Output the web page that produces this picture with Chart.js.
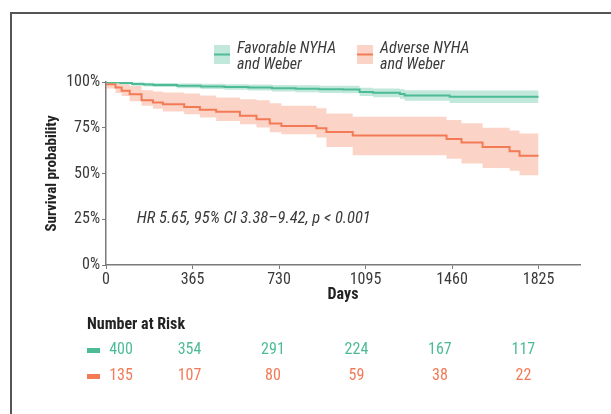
<!DOCTYPE html>
<html>
<head>
<meta charset="utf-8">
<script src="https://cdn.jsdelivr.net/npm/chart.js@4.4.1/dist/chart.umd.min.js"></script>
<style>
  html, body { margin: 0; padding: 0; background: #fff; }
  #wrap { position: relative; width: 611px; height: 414px; overflow: hidden; }
  #frame { position: absolute; left: 10px; top: 12px; width: 620px; height: 420px;
           border-top: 2px solid #555; border-left: 2px solid #555; box-sizing: border-box; }
  canvas { position: absolute; left: 0; top: 0; }
</style>
</head>
<body>
<div id="wrap">
  <div id="frame"></div>
  <canvas id="c" width="611" height="414"></canvas>
</div>
<script>
// ---------------- data ----------------
const groupNames = ["Favorable NYHA\nand Weber", "Adverse NYHA\nand Weber"];

const favTimes = [0, 60, 110, 160, 200, 300, 400, 500, 600, 700, 800, 900, 1000, 1070, 1127, 1240, 1260, 1450, 1542, 1825];
const favSurv  = [100, 99.8, 99.4, 98.9, 98.6, 98.3, 97.9, 97.6, 97.3, 97.0, 96.6, 96.3, 96.0, 95.9, 94.6, 94.1, 93.5, 92.6, 91.9, 91.9];
const favUpper = [100, 100, 100, 99.8, 99.6, 99.4, 99.2, 99.0, 98.8, 98.6, 98.4, 98.2, 98.0, 97.9, 96.9, 96.5, 96.1, 95.5, 95.4, 95.4];
const favLower = [100, 99.5, 98.8, 98.0, 97.6, 97.2, 96.6, 96.2, 95.8, 95.4, 94.8, 94.4, 94.0, 93.9, 92.3, 91.7, 90.9, 89.7, 88.5, 88.5];

const advTimes = [0, 40, 66, 100, 150, 198, 240, 330, 396, 465, 565, 635, 691, 740, 888, 930, 1041, 1437, 1500, 1589, 1703, 1745, 1816, 1825];
const advSurv  = [100, 98.8, 97.0, 95.2, 93.3, 90.0, 88.8, 87.8, 86.4, 84.9, 83.7, 81.5, 79.6, 77.3, 76.0, 74.7, 72.7, 70.7, 68.9, 67.0, 64.5, 62.1, 59.7, 59.7];
const advUpper = [100, 100, 99.6, 98.8, 97.8, 95.5, 94.8, 94.2, 93.7, 92.6, 91.5, 90.6, 90.0, 88.4, 87.0, 85.6, 82.8, 81.0, 79.2, 77.4, 75.0, 73.5, 71.8, 71.8];
const advLower = [100, 96.5, 94.0, 92.4, 89.5, 87.0, 85.4, 83.9, 82.4, 80.6, 78.7, 76.9, 75.1, 72.6, 71.4, 69.7, 64.5, 60.0, 58.0, 55.5, 53.0, 51.5, 49.0, 49.0];

const xTickDays = [0, 365, 730, 1095, 1460, 1825];
const yTickValues = [0, 25, 50, 75, 100];
const riskFav = [400, 354, 291, 224, 167, 117];
const riskAdv = [135, 107, 80, 59, 38, 22];
const hrText = "HR 5.65, 95% CI 3.38\u20139.42, p < 0.001";

// ---------------- styles ----------------
const FONT = "'Liberation Sans Narrow', 'Arial Narrow', 'Roboto Condensed', 'DejaVu Sans Condensed', sans-serif";
const GREEN = '#4dbb97';
const GREEN_BAND = 'rgba(77,189,152,0.35)';
const RED = '#f27b56';
const RED_BAND = 'rgba(244,131,95,0.35)';
const AXIS = '#7a7a7a';
const TXT = '#3a3a3a';

function pts(t, v) { return t.map((x, i) => ({ x: x, y: v[i] })); }

Chart.defaults.font.family = FONT;
Chart.defaults.font.size = 16;
Chart.defaults.color = TXT;

const overlay = {
  id: 'overlay',
  afterDraw(chart) {
    const ctx = chart.ctx;
    const xs = chart.scales.x, ys = chart.scales.y;
    ctx.save();
    // HR annotation
    ctx.fillStyle = TXT;
    ctx.font = 'italic 16.5px ' + FONT;
    ctx.textAlign = 'left';
    ctx.textBaseline = 'middle';
    ctx.fillText(hrText, xs.getPixelForValue(130), ys.getPixelForValue(25));

    // legend
    const legendItems = [
      { sx: 214, tx: 237, band: GREEN_BAND, line: GREEN, text: groupNames[0] },
      { sx: 357, tx: 380, band: RED_BAND, line: RED, text: groupNames[1] }
    ];
    legendItems.forEach(it => {
      ctx.fillStyle = it.band;
      ctx.fillRect(it.sx, 45, 16, 19);
      ctx.strokeStyle = it.line;
      ctx.lineWidth = 2;
      ctx.beginPath(); ctx.moveTo(it.sx, 54.5); ctx.lineTo(it.sx + 16, 54.5); ctx.stroke();
      ctx.fillStyle = TXT;
      ctx.font = 'italic 16px ' + FONT;
      const lines = it.text.split('\n');
      lines.forEach((l, k) => ctx.fillText(l, it.tx, 49 + k * 16));
    });

    // number at risk table
    ctx.fillStyle = '#222';
    ctx.font = 'bold 16px ' + FONT;
    ctx.fillText('Number at Risk', 87, 325);
    const rows = [{ y: 350, vals: riskFav, col: GREEN }, { y: 376, vals: riskAdv, col: RED }];
    rows.forEach(r => {
      ctx.fillStyle = r.col;
      ctx.fillRect(87, r.y - 2, 13, 5);
      ctx.font = '16px ' + FONT;
      ctx.textAlign = 'center';
      r.vals.forEach((v, i) => {
        const d = xTickDays[i];
        const cx = xs.getPixelForValue(d * 0.965) + (d === 0 ? 15 : 0);
        ctx.fillText(String(v), cx, r.y);
      });
      ctx.textAlign = 'left';
    });
    ctx.restore();
  }
};

new Chart(document.getElementById('c'), {
  type: 'line',
  data: {
    datasets: [
      { label: 'fav', data: pts(favTimes, favSurv), borderColor: GREEN, borderWidth: 2, stepped: 'after', pointRadius: 0, fill: false },
      { label: 'adv', data: pts(advTimes, advSurv), borderColor: RED, borderWidth: 2, stepped: 'after', pointRadius: 0, fill: false },
      { label: 'favU', data: pts(favTimes, favUpper), borderWidth: 0, borderColor: 'rgba(0,0,0,0)', backgroundColor: GREEN_BAND, stepped: 'after', pointRadius: 0, fill: '+1' },
      { label: 'favL', data: pts(favTimes, favLower), borderWidth: 0, borderColor: 'rgba(0,0,0,0)', stepped: 'after', pointRadius: 0, fill: false },
      { label: 'advU', data: pts(advTimes, advUpper), borderWidth: 0, borderColor: 'rgba(0,0,0,0)', backgroundColor: RED_BAND, stepped: 'after', pointRadius: 0, fill: '+1' },
      { label: 'advL', data: pts(advTimes, advLower), borderWidth: 0, borderColor: 'rgba(0,0,0,0)', stepped: 'after', pointRadius: 0, fill: false }
    ]
  },
  options: {
    responsive: false,
    animation: false,
    layout: { padding: { left: 43, top: 82, right: 31, bottom: 109 } },
    plugins: { legend: { display: false }, tooltip: { enabled: false } },
    scales: {
      x: {
        type: 'linear', min: 0, max: 2000,
        afterBuildTicks(s) { s.ticks = xTickDays.map(v => ({ value: v })); },
        afterFit(s) { s.height = 40; },
        grid: { drawOnChartArea: false, drawTicks: true, tickLength: 4, color: AXIS },
        border: { color: AXIS, width: 1.5 },
        ticks: { padding: 1, color: TXT, maxRotation: 0, font: { size: 16 }, callback: v => String(v) },
        title: { display: true, text: 'Days', color: '#222', font: { size: 16, weight: 'bold' }, padding: { top: 0, bottom: 0 } }
      },
      y: {
        min: 0, max: 100,
        afterBuildTicks(s) { s.ticks = yTickValues.map(v => ({ value: v })); },
        afterFit(s) { s.width = 63; },
        grid: { drawOnChartArea: false, drawTicks: true, tickLength: 4, color: AXIS },
        border: { color: AXIS, width: 1.5 },
        ticks: { padding: 2, color: TXT, callback: v => v + '%', font: { size: 16 } },
        title: { display: true, text: 'Survival probability', color: '#222', font: { size: 15, weight: 'bold' }, padding: { top: 0, bottom: 0 } }
      }
    }
  },
  plugins: [overlay]
});
</script>
</body>
</html>
